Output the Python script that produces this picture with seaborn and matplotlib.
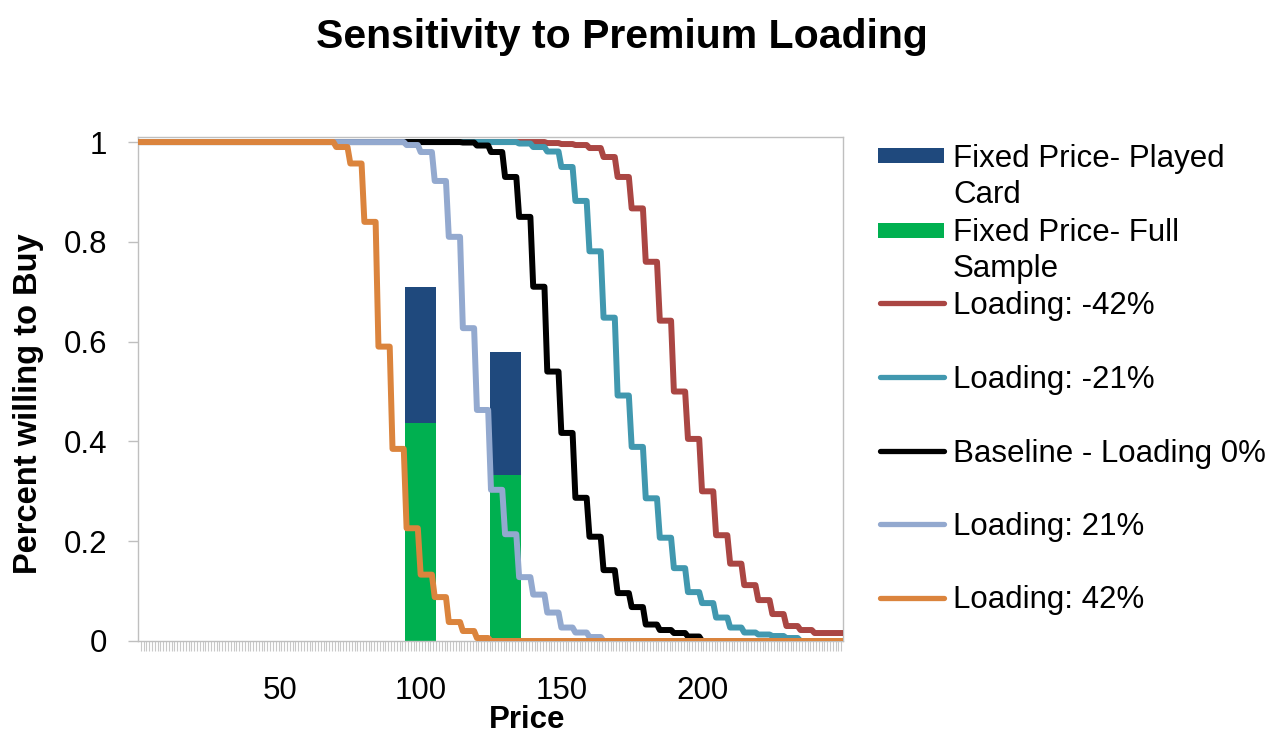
import numpy as np
import pandas as pd
import matplotlib
matplotlib.use("Agg")
import matplotlib.pyplot as plt
from matplotlib.lines import Line2D
from matplotlib.patches import Rectangle
import seaborn as sns

# ---------------- data ----------------
# Each curve is a step function of price; one value per 5-unit price block
# (blocks start at 0, 5, 10, ..., 250).
block_start = list(range(0, 251, 5))

loading_m42 = [1.0] * 29 + [0.998, 0.996, 0.994, 0.988, 0.970, 0.930, 0.867, 0.760,
                            0.642, 0.500, 0.405, 0.300, 0.212, 0.155, 0.112, 0.082,
                            0.054, 0.030, 0.022, 0.016, 0.016, 0.016]
loading_m21 = [1.0] * 27 + [0.997, 0.990, 0.981, 0.950, 0.882, 0.781, 0.648, 0.492,
                            0.389, 0.286, 0.207, 0.146, 0.098, 0.076, 0.047, 0.027,
                            0.017, 0.013, 0.010, 0.006] + [0.0] * 4
baseline_0 = [1.0] * 23 + [0.999, 0.993, 0.980, 0.930, 0.850, 0.710, 0.540, 0.417,
                           0.287, 0.209, 0.142, 0.096, 0.068, 0.033, 0.022, 0.016,
                           0.009] + [0.0] * 11
loading_p21 = [1.0] * 19 + [0.994, 0.980, 0.922, 0.810, 0.627, 0.463, 0.303, 0.214,
                            0.128, 0.093, 0.057, 0.027, 0.017, 0.008] + [0.0] * 18
loading_p42 = [1.0] * 14 + [0.990, 0.957, 0.840, 0.590, 0.385, 0.226, 0.133, 0.088,
                            0.038, 0.020, 0.006] + [0.0] * 26

series_names = ["Loading: -42%", "Loading: -21%", "Baseline - Loading 0%",
                "Loading: 21%", "Loading: 42%"]
series_colors = ["#AA4643", "#4198AF", "#000000", "#93A9CF", "#DB843D"]

bar_price = [100, 130]
played_card = [0.71, 0.58]
full_sample = [0.437, 0.333]
bar_names = ["Fixed Price- Played\nCard", "Fixed Price- Full\nSample"]
bar_colors = ["#1F497D", "#00B050"]

x_ticks = [50, 100, 150, 200]
y_ticks = [0, 0.2, 0.4, 0.6, 0.8, 1]
y_ticklabels = ["0", "0.2", "0.4", "0.6", "0.8", "1"]

# ---------------- long table ----------------
prices = np.arange(0, 251)
rows = []
for name, vals in zip(series_names, [loading_m42, loading_m21, baseline_0,
                                     loading_p21, loading_p42]):
    v = np.asarray(vals)[prices // 5]
    rows.append(pd.DataFrame({"Price": prices, "Value": v, "Series": name}))
df = pd.concat(rows, ignore_index=True)

# ---------------- figure ----------------
sns.set_style("white")
plt.rcParams["font.family"] = ["Liberation Sans", "DejaVu Sans"]

W, H = 1270, 735
fig = plt.figure(figsize=(W / 100, H / 100), dpi=100)


def fx(x):
    return x / W


def fy(y):
    return 1 - y / H


ax_l, ax_r, ax_t, ax_b = 138.3, 842.7, 137.3, 641.0
ax = fig.add_axes([fx(ax_l), fy(ax_b), (ax_r - ax_l) / W, (ax_b - ax_t) / H])

LW = 4.3

# bars (behind lines)
ax.bar(bar_price, played_card, width=11, color=bar_colors[0], zorder=1, linewidth=0)
ax.bar(bar_price, full_sample, width=11, color=bar_colors[1], zorder=1.1, linewidth=0)

sns.lineplot(data=df, x="Price", y="Value", hue="Series", hue_order=series_names,
             palette=dict(zip(series_names, series_colors)), linewidth=LW,
             estimator=None, errorbar=None, legend=False, ax=ax, zorder=3,
             solid_joinstyle="round", solid_capstyle="round")

ax.set_xlim(-0.35, 250)
ax.set_ylim(0, 1.0095)
ax.set_xlabel("")
ax.set_ylabel("")

ax.set_xticks(x_ticks)
ax.set_xticklabels([str(t) for t in x_ticks])
ax.set_xticks(np.arange(0.5, 250, 1), minor=True)
ax.set_yticks(y_ticks)
ax.set_yticklabels(y_ticklabels)

ax.tick_params(axis="x", which="major", bottom=True, length=0, pad=25.5,
               labelsize=22.5, labelcolor="black")
ax.tick_params(axis="x", which="minor", bottom=True, length=7.2, width=0.8,
               color="#C8C8C8", direction="out")
ax.tick_params(axis="y", which="major", left=True, length=7.2, width=1,
               color="#BFBFBF", direction="out", pad=15, labelsize=22.5,
               labelcolor="black")

for sp in ax.spines.values():
    sp.set_visible(True)
    sp.set_color("#BFBFBF")
    sp.set_linewidth(1.0)

# titles and axis labels
fig.text(fx(622), fy(48), "Sensitivity to Premium Loading", ha="center",
         va="baseline", fontsize=29.5, fontweight="bold", color="black")
fig.text(fx(29), fy(404), "Percent willing to Buy", ha="center", va="center",
         rotation=90, fontsize=23.5, fontweight="bold", color="black")
fig.text(fx(527), fy(728), "Price", ha="center", va="baseline",
         fontsize=22.5, fontweight="bold", color="black")

# legend (drawn to match Excel's layout)
text_x = 953
bar_text_baselines = [(166.7, 203.0), (241.0, 277.0)]
bar_patch_y = [148.3, 222.7]
for name, col, (b1, b2), py in zip(bar_names, bar_colors, bar_text_baselines, bar_patch_y):
    l1, l2 = name.split("\n")
    fig.text(fx(text_x), fy(b1), l1, ha="left", va="baseline", fontsize=22.5, color="black")
    fig.text(fx(text_x), fy(b2), l2, ha="left", va="baseline", fontsize=22.5, color="black")
    fig.add_artist(Rectangle((fx(878), fy(py + 15)), 66 / W, 15 / H,
                             transform=fig.transFigure, color=col, lw=0))

line_text_baselines = [314.3, 388.3, 461.7, 535.0, 608.3]
line_handle_y = [303.3, 376.7, 450.7, 524.3, 598.3]
for name, col, tb, ly in zip(series_names, series_colors, line_text_baselines, line_handle_y):
    fig.text(fx(text_x), fy(tb), name, ha="left", va="baseline", fontsize=22.5, color="black")
    fig.add_artist(Line2D([fx(879.5), fx(943.5)], [fy(ly), fy(ly)], transform=fig.transFigure,
                          color=col, linewidth=3.8, solid_capstyle="round"))

fig.savefig("out.png", dpi=100)
